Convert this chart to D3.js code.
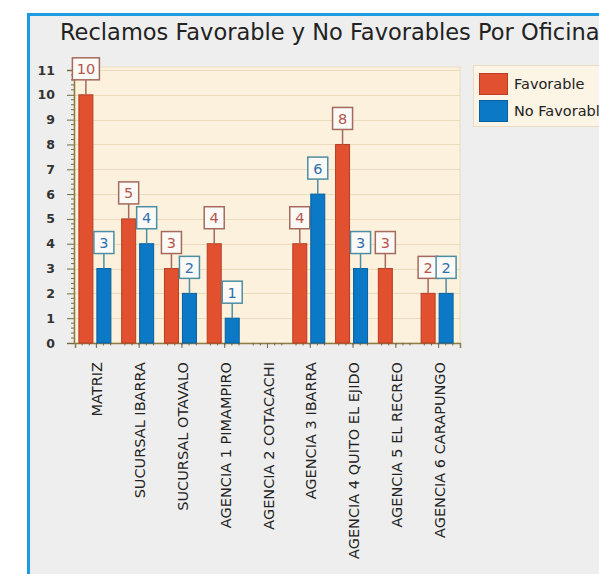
<!DOCTYPE html>
<html>
<head>
<meta charset="utf-8">
<script src="https://cdn.jsdelivr.net/npm/d3@7"></script>
<style>
  html, body { margin: 0; padding: 0; background: #ffffff; }
  svg { display: block; }
</style>
</head>
<body>
<svg id="chart" width="599" height="574"></svg>
<script>
const categories = ["MATRIZ", "SUCURSAL IBARRA", "SUCURSAL OTAVALO", "AGENCIA 1 PIMAMPIRO",
  "AGENCIA 2 COTACACHI", "AGENCIA 3 IBARRA", "AGENCIA 4 QUITO EL EJIDO", "AGENCIA 5 EL RECREO",
  "AGENCIA 6 CARAPUNGO"];
const seriesNames = ["Favorable", "No Favorable"];
const favorable = [10, 5, 3, 4, 0, 4, 8, 3, 2];
const noFavorable = [3, 4, 2, 1, 0, 6, 3, 0, 2];
const yTicks = [0, 1, 2, 3, 4, 5, 6, 7, 8, 9, 10, 11];
const titleText = "Reclamos Favorable y No Favorables Por Oficina";

const fills = ["#e2512f", "#0b79c6"];
const strokes = ["#b83d22", "#08609e"];
const boxStroke = ["#a56a5c", "#4e8ea2"];
const labelColor = ["#b5554a", "#2f6fae"];
const FONT = "DejaVu Sans, Verdana, sans-serif";

const svg = d3.select("#chart");

// frame
svg.append("rect").attr("x", 28.5).attr("y", 14.5).attr("width", 620).attr("height", 600)
  .attr("fill", "#eeeeee").attr("stroke", "#1d9be0").attr("stroke-width", 3);

// title
svg.append("text").attr("x", 60).attr("y", 40)
  .attr("font-family", FONT).attr("font-size", 22.5)
  .attr("fill", "#222").text(titleText);

const plot = { left: 74, right: 460, top: 67, bottom: 343 };

const x = d3.scaleBand().domain(categories).range([plot.left + 1, plot.right]).paddingInner(0).paddingOuter(0);
const x1 = d3.scaleBand().domain(seriesNames).range([-17.5, 14.5]).paddingInner(0.222).paddingOuter(0);
const y = d3.scaleLinear().domain([0, 11]).range([plot.bottom, 70]);

// plot background
svg.append("rect").attr("x", plot.left).attr("y", plot.top)
  .attr("width", plot.right - plot.left).attr("height", plot.bottom - plot.top)
  .attr("fill", "#fbf1dd").attr("stroke", "#eadcc0").attr("stroke-width", 1);

// gridlines
svg.append("g").selectAll("line").data(yTicks.filter(d => d > 0)).join("line")
  .attr("x1", plot.left).attr("x2", plot.right)
  .attr("y1", d => Math.round(y(d)) + 0.5).attr("y2", d => Math.round(y(d)) + 0.5)
  .attr("stroke", "#eadbbd").attr("stroke-width", 1);

// y axis
const yAxis = d3.axisLeft(y).tickValues(yTicks).tickSize(7).tickPadding(12).tickFormat(d3.format("d"));
const gy = svg.append("g").attr("transform", `translate(${plot.left},0)`).call(yAxis);
gy.select(".domain").attr("stroke", "#8c7d45").attr("stroke-width", 1.5);
gy.selectAll(".tick line").attr("stroke", "#6f6a45");
gy.selectAll(".tick text").attr("font-family", FONT)
  .attr("font-size", 12.5).attr("font-weight", "bold").attr("fill", "#333");
// minor y ticks
const minor = d3.range(0, 11.01, 0.2).filter(v => Math.abs(v - Math.round(v)) > 0.01);
svg.append("g").selectAll("line").data(minor).join("line")
  .attr("x1", plot.left - 3).attr("x2", plot.left)
  .attr("y1", d => y(d)).attr("y2", d => y(d))
  .attr("stroke", "#6f6a45").attr("stroke-width", 1);

// x axis
const xAxis = d3.axisBottom(x).tickSize(5).tickFormat("");
const gx = svg.append("g").attr("transform", `translate(0,${plot.bottom})`).call(xAxis);
gx.select(".domain").attr("stroke", "#8c7d45").attr("stroke-width", 1.5);
gx.selectAll(".tick line").attr("stroke", "#6f6a45");
// minor x ticks
const minorX = [];
categories.forEach(c => { for (let k = 1; k < 6; k++) minorX.push(x(c) + k * x.bandwidth() / 6); });
svg.append("g").selectAll("line").data(minorX).join("line")
  .attr("x1", d => d).attr("x2", d => d)
  .attr("y1", plot.bottom).attr("y2", plot.bottom + 2.5)
  .attr("stroke", "#6f6a45").attr("stroke-width", 1);

// x labels
svg.append("g").selectAll("text").data(categories).join("text")
  .attr("transform", d => `translate(${x(d) + x.bandwidth() / 2 + 6},${plot.bottom + 19}) rotate(-90)`)
  .attr("text-anchor", "end")
  .attr("font-family", FONT).attr("font-size", 14.5)
  .attr("fill", "#222").text(d => d);

// bars
const series = [favorable, noFavorable];
series.forEach((vals, si) => {
  const g = svg.append("g");
  const data = categories.map((c, i) => ({ c, v: vals[i] })).filter(d => d.v > 0);
  const cx = d => x(d.c) + x.bandwidth() / 2 + x1(seriesNames[si]);
  g.selectAll("rect").data(data).join("rect")
    .attr("x", d => cx(d)).attr("y", d => y(d.v))
    .attr("width", x1.bandwidth()).attr("height", d => y(0) - y(d.v))
    .attr("fill", fills[si]).attr("stroke", strokes[si]).attr("stroke-width", 1);

  // labels
  const lg = svg.append("g");
  data.forEach(d => {
    const mx = cx(d) + x1.bandwidth() / 2;
    const top = y(d.v);
    const w = String(d.v).length > 1 ? 27 : 20;
    const h = 22;
    const by = top - 15 - h;
    lg.append("line").attr("x1", mx).attr("x2", mx).attr("y1", by + h).attr("y2", top)
      .attr("stroke", boxStroke[si]).attr("stroke-width", 1.5);
    lg.append("rect").attr("x", mx - w / 2).attr("y", by).attr("width", w).attr("height", h)
      .attr("fill", "#fcfaf7").attr("stroke", boxStroke[si]).attr("stroke-width", 1.5);
    lg.append("text").attr("x", mx).attr("y", by + h / 2 + 5.5).attr("text-anchor", "middle")
      .attr("font-family", FONT).attr("font-size", 14.5)
      .attr("fill", labelColor[si]).text(d.v);
  });
});

// legend
const lgd = svg.append("g");
lgd.append("rect").attr("x", 473.5).attr("y", 65.5).attr("width", 140).attr("height", 61)
  .attr("fill", "#fcf4e4").attr("stroke", "#eadcc4");
seriesNames.forEach((s, i) => {
  lgd.append("rect").attr("x", 479.5).attr("y", 73.5 + i * 27).attr("width", 28).attr("height", 21)
    .attr("fill", fills[i]).attr("stroke", strokes[i]);
  lgd.append("text").attr("x", 514).attr("y", 89 + i * 27)
    .attr("font-family", FONT).attr("font-size", 14.5)
    .attr("fill", "#222").text(s);
});
</script>
</body>
</html>
